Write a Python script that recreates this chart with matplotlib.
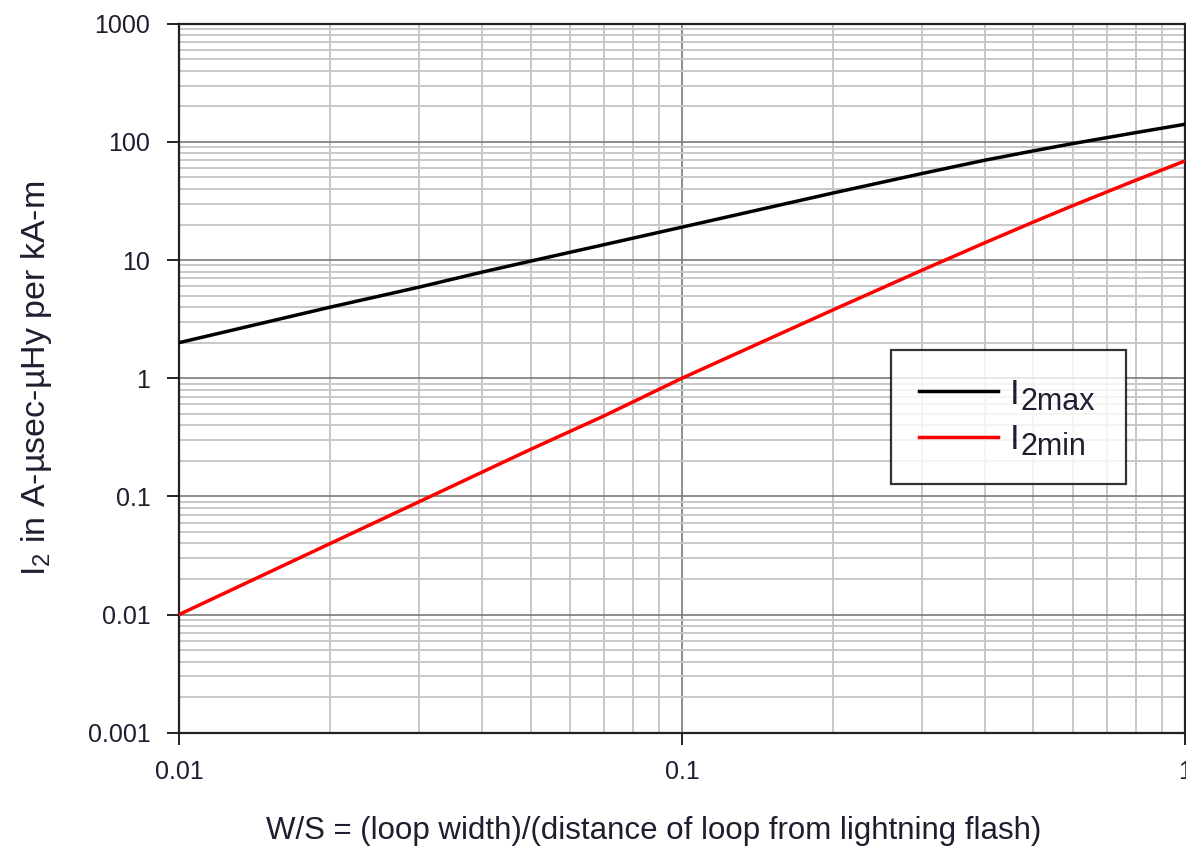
import numpy as np
from matplotlib import pyplot as plt
from matplotlib.transforms import IdentityTransform
from matplotlib.ticker import LogLocator, FixedLocator, FixedFormatter, NullFormatter

plt.rcParams['font.family'] = ['Liberation Sans', 'DejaVu Sans']
plt.rcParams['mathtext.fontset'] = 'custom'
plt.rcParams['mathtext.rm'] = 'Liberation Sans'
plt.rcParams['mathtext.it'] = 'Liberation Sans:italic'

# values
ws = [0.01, 0.02, 0.03, 0.04, 0.05, 0.07, 0.1, 0.2, 0.3, 0.4, 0.5, 0.6, 0.8, 1.0]
i2max = [2.0, 4.0, 5.9, 7.9, 9.8, 13.5, 19.0, 37, 54, 70, 84, 97, 120, 141]
i2min = [0.01, 0.04, 0.09, 0.16, 0.25, 0.48, 1.0, 3.8, 8.2, 14, 21, 29, 47.5, 69]

series_names = ['I', 'I']
series_subs = ['2max', '2min']

xticks = [0.01, 0.1, 1]
xticklabels = ['0.01', '0.1', '1']
yticks = [0.001, 0.01, 0.1, 1, 10, 100, 1000]
yticklabels = ['0.001', '0.01', '0.1', '1', '10', '100', '1000']

txtcol = '#1e1e30'

fig = plt.figure(figsize=(11.86, 8.49), dpi=100)
ax = fig.add_axes([0.151, 0.137, 0.848, 0.835])

ax.plot(ws, i2max, color='black', lw=2.5, label=series_names[0], zorder=3)
ax.plot(ws, i2min, color='#ff0000', lw=2.5, label=series_names[1], zorder=3)

ax.set_xscale('log')
ax.set_yscale('log')
ax.set_xlim(0.01, 1)
ax.set_ylim(0.001, 1000)

ax.xaxis.set_major_locator(FixedLocator(xticks))
ax.xaxis.set_major_formatter(FixedFormatter(xticklabels))
ax.yaxis.set_major_locator(FixedLocator(yticks))
ax.yaxis.set_major_formatter(FixedFormatter(yticklabels))
ax.xaxis.set_minor_locator(LogLocator(base=10, subs=np.arange(2, 10), numticks=20))
ax.yaxis.set_minor_locator(LogLocator(base=10, subs=np.arange(2, 10), numticks=20))
ax.xaxis.set_minor_formatter(NullFormatter())
ax.yaxis.set_minor_formatter(NullFormatter())

ax.grid(which='major', color='#7a7a7a', lw=1.2)
ax.grid(which='minor', color='#c8c8c8', lw=1.4)
ax.set_axisbelow(True)

ax.tick_params(which='major', direction='out', length=8.6, width=1.4, color='#222222',
               labelsize=18, labelcolor=txtcol)
ax.tick_params(axis='y', which='major', pad=12)
ax.tick_params(axis='x', which='major', pad=11)
ax.tick_params(which='minor', length=0)

for sp in ['left', 'bottom', 'top', 'right']:
    ax.spines[sp].set_linewidth(1.6)
    ax.spines[sp].set_color('#222222')

ax.set_xlabel('W/S = (loop width)/(distance of loop from lightning flash)',
              fontsize=22.5, color=txtcol)
ax.xaxis.set_label_coords(0.472, -0.118)
ax.set_ylabel(r'I$_{\mathregular{2}}$ in A-µsec-µHy per kA-m',
              fontsize=24.5, color=txtcol, labelpad=24)

# legend box spans a fixed region; subscripts are added next to the "I"
leg = ax.legend(loc='upper left', bbox_to_anchor=(0.708, 0.353, 0.234, 0.187),
                mode='expand', borderaxespad=0, fontsize=25,
                frameon=True, fancybox=False, shadow=False, handlelength=2.28,
                borderpad=0.8, labelspacing=0.37, handletextpad=0.35)
leg.get_frame().set_edgecolor('black')
leg.get_frame().set_linewidth(1.6)
for t in leg.get_texts():
    t.set_color(txtcol)

fig.canvas.draw()
renderer = fig.canvas.get_renderer()
for t, sub in zip(leg.get_texts(), series_subs):
    bb = t.get_window_extent(renderer)
    fig.text(bb.x1 + 1, bb.y0 + 1, sub, transform=IdentityTransform(),
             fontsize=22, color=txtcol, ha='left', va='baseline', zorder=10)

fig.savefig('out.png', dpi=100)
